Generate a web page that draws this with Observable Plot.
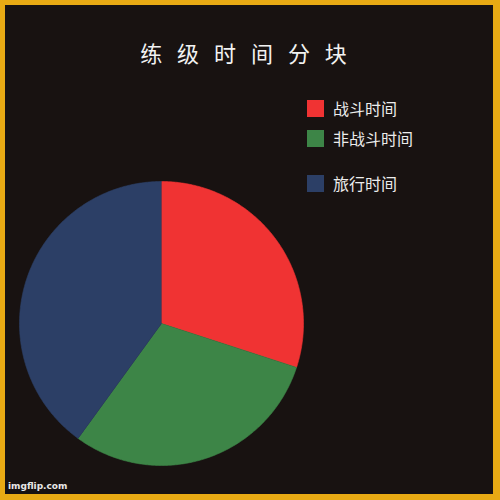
<!DOCTYPE html>
<html>
<head>
<meta charset="utf-8">
<script src="https://cdn.jsdelivr.net/npm/d3@7"></script>
<script src="https://cdn.jsdelivr.net/npm/@observablehq/plot@0.6"></script>
<style>
  html, body { margin: 0; padding: 0; background: #e8aa14; }
  #frame { position: relative; width: 500px; height: 500px; background: #e8aa14; overflow: hidden; }
  #inner { position: absolute; left: 5px; top: 5px; width: 488px; height: 489px; background: #181211; }
  #chart { position: absolute; left: 0; top: 0; }
  #title { position: absolute; left: 3px; width: 486px; top: 36px; text-align: center;
    font-family: "Noto Sans CJK SC", sans-serif; font-size: 22px; color: #f2f2f2; letter-spacing: 5px; white-space: pre; }
  .item { position: absolute; left: 307px; height: 17px; font-family: "Noto Sans CJK SC", sans-serif; font-size: 16px; color: #ececec; }
  .sw { position: absolute; left: 0; top: 0; width: 17px; height: 17px; }
  .lb { position: absolute; left: 26px; top: -3px; white-space: nowrap; line-height: 22px; }
  #wm { position: absolute; left: 8px; top: 481px; font-family: "DejaVu Sans", sans-serif; font-size: 9px; font-weight: bold; color: #e8e8e8; }
</style>
</head>
<body>
<div id="frame">
  <div id="inner"></div>
  <div id="chart"></div>
  <div id="title"></div>
  <div id="legend"></div>
  <div id="wm">imgflip.com</div>
</div>
<script>
const title = "练 级 时 间 分 块";
const categories = ["战斗时间", "非战斗时间", "旅行时间"];
const values = [30, 30, 40];
const colors = ["#f03333", "#3d8547", "#2c3f66"];
const legendTops = [100, 130, 175];

const slices = categories.map((name, i) => ({name, value: values[i]}));
const arcs = d3.pie().sort(null).value(d => d.value)(slices);
const pts = [];
for (const a of arcs) {
  pts.push({name: a.data.name, x: 0, y: 0});
  const n = Math.max(2, Math.ceil((a.endAngle - a.startAngle) / 0.01));
  for (let k = 0; k <= n; k++) {
    const t = a.startAngle + (a.endAngle - a.startAngle) * k / n;
    pts.push({name: a.data.name, x: Math.sin(t), y: Math.cos(t)});
  }
}

const chart = Plot.plot({
  width: 500, height: 500,
  marginLeft: 19, marginRight: 197, marginTop: 181, marginBottom: 35,
  style: {background: "transparent"},
  x: {domain: [-1, 1], axis: null},
  y: {domain: [-1, 1], axis: null},
  color: {domain: categories, range: colors},
  marks: [
    Plot.line(pts, {x: "x", y: "y", z: "name", fill: "name", stroke: "name", strokeWidth: 0.6})
  ]
});
document.getElementById("chart").appendChild(chart);
document.getElementById("title").textContent = title;

const leg = document.getElementById("legend");
categories.forEach((c, i) => {
  const it = document.createElement("div");
  it.className = "item";
  it.style.top = legendTops[i] + "px";
  const sw = document.createElement("div");
  sw.className = "sw";
  sw.style.background = chart.scale("color").apply(c);
  const lb = document.createElement("div");
  lb.className = "lb";
  lb.textContent = c;
  it.appendChild(sw); it.appendChild(lb);
  leg.appendChild(it);
});
</script>
</body>
</html>
